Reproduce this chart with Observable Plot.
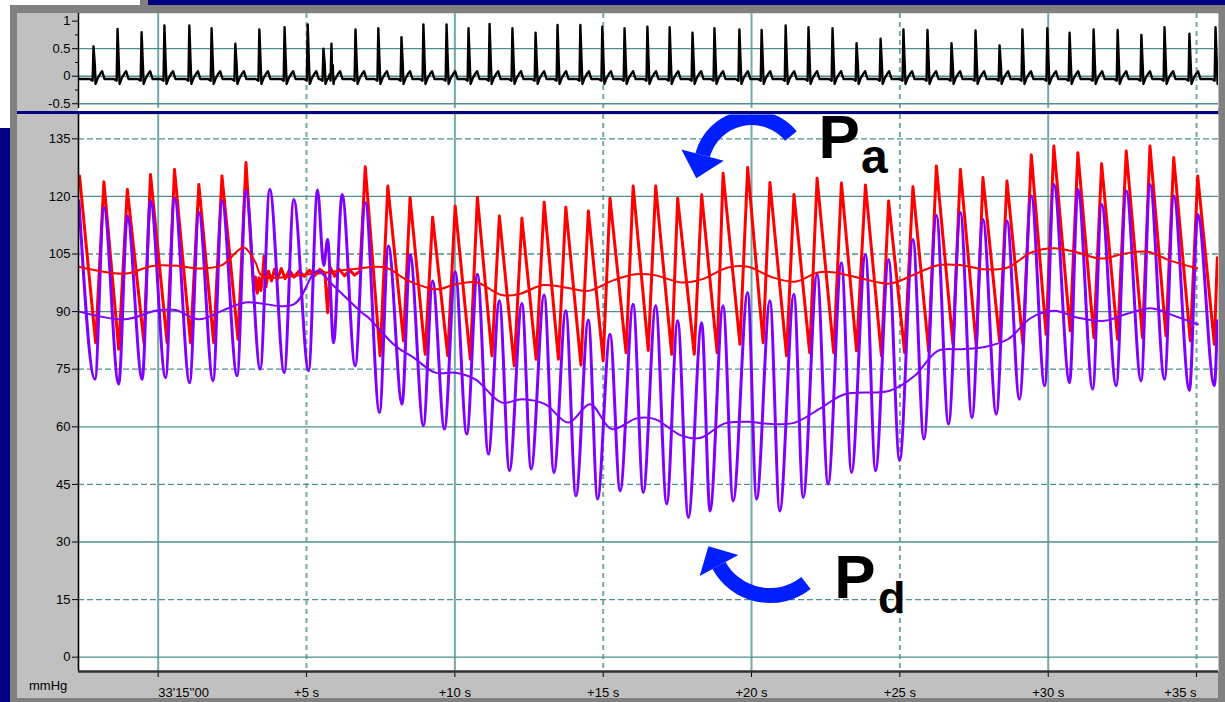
<!DOCTYPE html>
<html>
<head>
<meta charset="utf-8">
<script src="https://cdn.jsdelivr.net/npm/d3@7"></script>
<script src="https://cdn.jsdelivr.net/npm/@observablehq/plot@0.6"></script>
<style>
html, body { margin:0; padding:0; background:#ffffff; }
#root { position:relative; width:1225px; height:702px; overflow:hidden; background:#ffffff; font-family:"Liberation Sans", Arial, sans-serif; }
.abs { position:absolute; }
</style>
</head>
<body>
<div id="root">
  <div class="abs" style="left:148px;top:0;width:1077px;height:5px;background:#000080"></div>
  <div class="abs" style="left:0;top:128px;width:10px;height:574px;background:#000080"></div>
  <div class="abs" style="left:10px;top:5px;width:1215px;height:697px;background:#808080"></div>
  <div class="abs" style="left:140px;top:0;width:8px;height:5px;background:#808080"></div>
  <div class="abs" style="left:17px;top:13px;width:1201px;height:685px;background:#c0c0c0"></div>
  <div class="abs" style="left:78px;top:108px;width:1140px;height:3px;background:#ffffff"></div>
  <div class="abs" style="left:17px;top:111px;width:1201px;height:3px;background:#000080"></div>
  <div id="ecg" class="abs" style="left:17px;top:13px;width:1201px"></div>
  <div id="pres" class="abs" style="left:17px;top:114px;width:1201px"></div>
  <svg class="abs" style="left:0;top:0" width="1225" height="702">
    <defs><clipPath id="pc"><rect x="78" y="114.5" width="1140" height="556"/></clipPath></defs>
    <g clip-path="url(#pc)">
      <g fill="none" stroke="#001eff" stroke-width="15">
        <path d="M791,136 A50.9,50.9 0 0 0 702.6,155.1"/>
        <path d="M806,583 A58.1,58.1 0 0 1 719,565.5"/>
      </g>
      <g fill="#001eff">
        <polygon points="681.4,149.4 723.8,160.8 696.3,178.3"/>
        <polygon points="699.7,576.1 738.3,554.9 708.4,546.2"/>
      </g>
    </g>
    <g font-family="Liberation Sans, Arial, sans-serif" font-weight="bold" fill="#000">
      <text x="818.5" y="158" font-size="62">P</text>
      <text x="861" y="173" font-size="48">a</text>
      <text x="834.3" y="598" font-size="62">P</text>
      <text x="878" y="613" font-size="45">d</text>
    </g>
    <text x="29" y="690" font-size="13" font-family="Liberation Sans, Arial, sans-serif" fill="#000">mmHg</text>
  </svg>
</div>
<script>
// ---------------- data ----------------
// time axis: seconds after 33'15''00
const xTicks = [0, 5, 10, 15, 20, 25, 30, 35];
const xTickLabels = ["33'15''00", "+5 s", "+10 s", "+15 s", "+20 s", "+25 s", "+30 s", "+35 s"];
const xGridSolid = [0, 10, 20, 30];
const xGridDashed = [5, 15, 25, 35];

const yTicks = [0, 15, 30, 45, 60, 75, 90, 105, 120, 135];
const yGridSolid = [0, 30, 60, 90, 120];
const yGridDashed = [15, 45, 75, 105, 135];

const ecgTicks = [-0.5, 0, 0.5, 1];
const ecgMinorTicks = [-0.25, 0.25, 0.75];
const ecgGrid = [-0.5, 0, 0.5];

// ECG R-wave times (s) and amplitudes
const ecgRT = [-2.18,-1.37,-0.56,0.21,1.05,1.80,2.60,3.41,4.26,5.04,5.57,5.84,6.65,7.42,8.20,8.94,9.72,10.46,11.17,11.94,12.72,13.46,14.23,14.97,15.72,16.49,17.24,18.01,18.75,19.59,20.34,21.15,21.92,22.73,23.54,24.35,25.12,25.93,26.74,27.55,28.36,29.13,29.97,30.72,31.53,32.34,33.14,33.92,34.76,35.64];
const ecgR = [0.54,0.86,0.80,0.92,0.92,0.87,0.59,0.85,0.89,0.94,0.50,0.59,0.85,0.87,0.71,0.94,0.94,0.87,0.95,0.87,0.79,0.93,0.93,0.90,0.87,0.90,0.89,0.79,0.87,0.85,0.84,0.92,0.89,0.87,0.60,0.68,0.85,0.84,0.60,0.83,0.56,0.85,0.87,0.79,0.85,0.84,0.75,0.89,0.77,0.89];

// Pa (aortic) waveform turning points: time (s), pressure (mmHg)
const paT = [-2.65,-2.11,-1.83,-1.33,-1.04,-0.48,-0.26,0.30,0.55,1.09,1.37,1.87,2.15,2.69,2.96,
  3.22,3.28,3.34,3.40,3.46,3.52,3.57,3.63,3.72,3.82,3.92,4.02,4.15,4.28,4.42,4.58,4.75,4.92,5.10,5.28,5.45,5.62,5.71,5.80,5.95,6.10,6.28,6.45,6.62,6.80,
  6.98,7.48,7.74,8.27,8.49,9.00,9.25,9.76,10.01,10.52,10.76,11.25,11.50,12.00,12.26,12.74,13.01,13.49,13.74,14.25,14.50,15.00,15.23,15.77,16.01,16.52,16.77,17.31,17.51,18.07,18.32,18.84,19.04,19.61,19.87,20.39,20.62,21.18,21.43,21.96,22.21,22.77,23.03,23.54,23.84,24.38,24.62,25.16,25.44,25.97,26.23,26.79,27.04,27.58,27.80,28.36,28.61,29.15,29.43,29.93,30.19,30.74,31.00,31.54,31.80,32.34,32.63,33.18,33.43,33.97,34.23,34.79,35.04,35.60,35.70];
const paV = [125.3,81.9,123.8,80.2,121.8,81.9,125.7,81.9,127.0,81.9,123.1,81.9,125.3,82.8,128.8,
  95.4,99,94.8,98.8,95.5,99.5,104.5,96.5,100.5,98,101,98.5,101.2,98.6,100.8,99,100.6,99.2,100.8,99.4,101,100,89.7,101.5,99.2,101,99.3,100.8,99.5,100.5,
  127.7,78.5,122.7,82.4,119.7,78.9,114.6,78.5,117.5,77.6,119.8,78.5,114.9,75.9,114.3,77.6,118.5,77.6,117.2,76.1,116.2,77.2,119.5,79.3,122.7,79.9,122.7,78.9,119.5,78.9,120.4,79.3,126.0,81.5,127.5,81.9,123.6,78.5,120.5,79.3,124.7,79.3,123.5,79.8,123.0,78.5,118.8,79.3,122.5,79.8,127.9,81.5,127.0,80.6,124.9,82.4,124.0,81.5,130.8,84.1,133.1,85.0,131.4,83.2,128.5,82.8,131.8,83.2,133.1,83.7,130.1,82.4,125.3,81.5,104];

// Pd (distal) waveform turning points
const pdT = [-2.67,-2.13,-1.83,-1.33,-1.04,-0.54,-0.26,0.25,0.55,1.06,1.37,1.85,2.15,2.66,2.96,3.44,3.76,4.25,4.57,5.07,5.37,5.58,5.71,5.91,6.20,6.64,6.98,7.46,7.76,8.22,8.49,8.94,9.25,9.65,10.01,10.40,10.76,11.13,11.50,11.84,12.26,12.57,13.01,13.34,13.74,14.08,14.50,14.81,15.23,15.57,16.01,16.35,16.77,17.14,17.51,17.87,18.32,18.60,19.04,19.38,19.87,20.17,20.62,20.95,21.43,21.74,22.21,22.58,23.03,23.37,23.84,24.18,24.62,24.99,25.44,25.81,26.23,26.64,27.04,27.43,27.80,28.25,28.61,29.03,29.43,29.88,30.19,30.72,31.00,31.50,31.80,32.29,32.63,33.13,33.43,33.92,34.23,34.76,35.04,35.60,35.70];
const pdV = [118.8,72.4,117.1,71.1,114.9,72.4,118.8,72.8,119.5,71.5,115.8,72.0,118.8,73.3,121.4,75.0,121.8,74.1,119.2,74.6,121.7,102,108.8,81.9,120.5,75.9,118.4,63.7,107.1,65.9,104.9,60.3,98.0,59.4,100.4,58.1,99.7,52.9,92.8,48.6,92.1,49.0,94.3,48.1,90.2,42.0,87.8,41.2,84.1,43.3,91.9,42.9,91.5,39.9,87.6,36.4,87.1,38.1,91.5,40.7,95.0,41.2,92.8,38.1,94.5,41.6,99.7,45.1,102.7,48.1,104.9,48.6,103.6,51.2,108.8,56.8,115.1,60.7,115.8,62.4,114.0,63.3,113.6,67.2,120.1,70.7,123.1,71.5,121.8,69.8,117.9,70.7,121.4,72.0,123.1,72.4,120.1,69.5,115.3,70.7,87.6];

// mean pressures
const paMeanT = [-2.67,-1.10,-0.20,0.69,1.37,2.15,2.88,3.28,3.50,5.07,6.53,7.65,8.44,9.39,10.01,10.74,11.58,12.14,12.98,13.71,14.50,15.29,16.07,16.74,17.64,18.32,19.21,19.89,20.67,21.46,22.24,22.80,23.82,24.66,25.50,26.28,27.07,27.86,28.64,29.43,30.21,31.00,31.78,32.57,33.35,34.14,35.02];
const paMean = [101.7,99.9,101.9,101.9,101.2,102.1,106.7,102.8,99.3,99.7,101.0,101.5,98.0,95.8,97.1,97.6,94.3,94.5,96.9,96.3,95.4,98.0,99.7,99.5,97.6,98.4,101.5,101.7,99.0,97.8,100.2,100.2,98.4,97.3,99.7,102.1,102.1,101.0,101.5,105.4,106.5,105.4,103.8,105.1,105.6,103.2,101.3];
const pdMeanT = [-2.67,-1.10,-0.09,0.58,1.37,2.15,2.94,4.57,5.35,5.86,6.87,7.09,7.99,8.61,9.34,10.01,10.68,11.58,12.26,13.04,13.83,14.56,15.29,16.13,16.74,17.64,18.26,19.10,19.89,20.67,21.46,22.36,23.14,24.66,25.50,26.28,27.07,27.86,28.64,29.43,30.21,31.00,31.90,32.68,33.47,34.25,35.04];
const pdMean = [90.0,88.0,90.2,90.4,88.0,90.2,92.4,91.9,100.6,97.1,89.7,88.4,81.1,78.0,74.1,74.1,72.4,66.3,67.2,65.9,61.1,65.9,59.4,62.2,62.0,57.7,57.1,60.9,61.3,60.7,61.1,65.0,68.5,69.4,73.3,79.8,80.2,80.8,82.8,88.4,90.2,88.4,87.6,89.5,90.9,88.9,86.7];

// ---------------- layout / style ----------------
const xDomain = [-2.686, 35.74];
const FONT = "Liberation Sans, Arial, sans-serif";
const RED = "#ff0000", PURPLE = "#8000ff";
const GRID_V = "#74a9a9", GRID_H = "#4f8f8f";
const ecgBaseline = -0.05;
// one heartbeat complex, offsets in s; "R" takes the beat's amplitude
const ecgShape = [[-0.12,-0.05],[-0.03,-0.08],[0,"R"],[0.045,0.2],[0.07,-0.14],[0.13,-0.05],[0.22,0.04],[0.29,0.09],[0.37,-0.05]];

const rows = (T, V) => T.map((t, i) => ({t, v: V[i]}));
const paRows = rows(paT, paV), pdRows = rows(pdT, pdV);
const paMeanRows = rows(paMeanT, paMean), pdMeanRows = rows(pdMeanT, pdMean);

const ecgRows = [{t: xDomain[0], v: ecgBaseline}];
ecgRT.forEach((t0, i) => {
  for (const [dt, v] of ecgShape) ecgRows.push({t: t0 + dt, v: v === "R" ? ecgR[i] : v});
});
ecgRows.push({t: xDomain[1], v: ecgBaseline});
ecgRows.sort((a, b) => a.t - b.t);

const gridX = () => [
  Plot.ruleX(xGridSolid, {stroke: GRID_V, strokeWidth: 2}),
  Plot.ruleX(xGridDashed, {stroke: GRID_V, strokeWidth: 2, strokeDasharray: "5,4"})
];
const hasAxisMarks = typeof Plot.axisY === "function";

// ---------------- ECG panel ----------------
const ecgY = {domain: [-0.586, 1.139], label: null};
const ecgMarks = [
  Plot.frame({fill: "white", stroke: "none"}),
  ...gridX(),
  Plot.ruleY(ecgGrid, {stroke: GRID_H, strokeWidth: 1.3}),
  Plot.line(ecgRows, {x: "t", y: "v", stroke: "#000", strokeWidth: 2.4, clip: true}),
  Plot.ruleX([xDomain[0]], {stroke: "#000", strokeWidth: 1.5})
];
if (hasAxisMarks) {
  ecgMarks.push(Plot.axisY(ecgTicks, {anchor: "left", tickSize: 6, tickPadding: 2, tickFormat: d => String(d), label: null}));
  ecgMarks.push(Plot.axisY(ecgMinorTicks, {anchor: "left", tickSize: 3, tickFormat: () => "", label: null}));
} else {
  Object.assign(ecgY, {ticks: ecgTicks, tickSize: 6, tickPadding: 2, tickFormat: d => String(d)});
}
const ecg = Plot.plot({
  width: 1201, height: 95,
  marginLeft: 61, marginRight: 0, marginTop: 0, marginBottom: 0,
  x: {domain: xDomain, axis: null},
  y: ecgY,
  style: {background: "transparent", fontFamily: FONT, fontSize: "13px", color: "#000", overflow: "visible"},
  marks: ecgMarks
});
document.getElementById("ecg").appendChild(ecg);

// ---------------- pressure panel ----------------
const labelRows = xTicks.map((t, i) => ({t, label: xTickLabels[i]}));
const n = labelRows.length;
const txt = (data, anchor) => Plot.text(data, {x: "t", text: "label", frameAnchor: "bottom", lineAnchor: "middle", dy: 21, textAnchor: anchor, fill: "#000"});

const pres = Plot.plot({
  width: 1201, height: 588,
  marginLeft: 61, marginRight: 0, marginTop: 0, marginBottom: 31,
  x: {domain: xDomain, ticks: xTicks, tickSize: 6, tickFormat: () => "", label: null},
  y: {domain: [-3.72, 141.33], ticks: yTicks, tickSize: 6, tickPadding: 2, tickFormat: d => String(d), label: null},
  style: {background: "transparent", fontFamily: FONT, fontSize: "13px", color: "#000", overflow: "visible"},
  marks: [
    Plot.frame({fill: "white", stroke: "none"}),
    ...gridX(),
    Plot.ruleY(yGridSolid, {stroke: GRID_H, strokeWidth: 1.3}),
    Plot.ruleY(yGridDashed, {stroke: GRID_H, strokeWidth: 1.3, strokeDasharray: "6,3"}),
    Plot.line(paRows, {x: "t", y: "v", stroke: RED, strokeWidth: 3, clip: true}),
    Plot.line(pdRows, {x: "t", y: "v", stroke: PURPLE, strokeWidth: 3, curve: "monotone-x", clip: true}),
    Plot.line(paMeanRows, {x: "t", y: "v", stroke: RED, strokeWidth: 2, curve: "catmull-rom", clip: true}),
    Plot.line(pdMeanRows, {x: "t", y: "v", stroke: PURPLE, strokeWidth: 2, curve: "catmull-rom", clip: true}),
    Plot.ruleX([xDomain[0]], {stroke: "#000", strokeWidth: 1.6}),
    Plot.ruleY([-3.72], {stroke: "#303030", strokeWidth: 2.4}),
    txt(labelRows.slice(0, 1), "start"),
    txt(labelRows.slice(1, n - 1), "middle"),
    txt(labelRows.slice(n - 1), "end")
  ]
});
document.getElementById("pres").appendChild(pres);
</script>
</body>
</html>
